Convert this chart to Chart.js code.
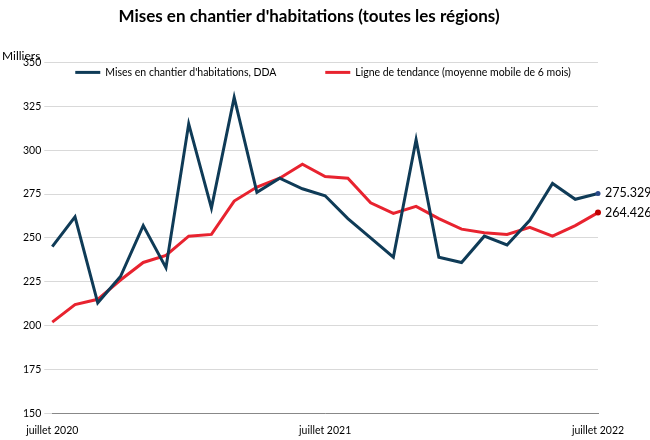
<!DOCTYPE html>
<html><head><meta charset="utf-8">
<script src="https://cdn.jsdelivr.net/npm/chart.js@4"></script>
<style>body{margin:0;background:#fff}#w{width:650px;height:440px}</style>
</head><body><div id="w"><canvas id="c"></canvas></div>
<script>
const labels=["juillet 2020","août 2020","sept. 2020","oct. 2020","nov. 2020","déc. 2020","janv. 2021","févr. 2021","mars 2021","avr. 2021","mai 2021","juin 2021","juillet 2021","août 2021","sept. 2021","oct. 2021","nov. 2021","déc. 2021","janv. 2022","févr. 2022","mars 2022","avr. 2022","mai 2022","juin 2022","juillet 2022"];
const mises=[245,262,213,228,257,233,315,267,330,276,284,278,274,261,250,239,306,239,236,251,246,260,281,272,275.329];
const tendance=[202,212,215,226,236,240,251,252,271,279,284,292,285,284,270,264,268,261,255,253,252,256,251,257,264.426];
const shownTicks=[0,12,24];
const last=labels.length-1;
const endLabels={
 id:'endLabels',
 afterDatasetsDraw(ch){
  const c=ch.ctx;c.save();c.font='12.5px Lato';c.fillStyle='#000';c.textBaseline='middle';
  ch.data.datasets.forEach((d,i)=>{const p=ch.getDatasetMeta(i).data[last];c.fillText(d.data[last].toFixed(3),p.x+7,p.y);});
  c.font='12px Lato';c.textBaseline='alphabetic';c.fillText('Milliers',2,60);
  // legend inside chart area
  const a=ch.chartArea, y=a.top+10;
  c.font='10.5px Lato';c.textBaseline='middle';c.lineWidth=3;
  const items=[[a.left+23,ch.data.datasets[0]],[a.left+273,ch.data.datasets[1]]];
  items.forEach(([x,d])=>{c.strokeStyle=d.borderColor;c.beginPath();c.moveTo(x,y);c.lineTo(x+25,y);c.stroke();c.fillStyle='#000';c.fillText(d.label,x+30,y);});
  c.restore();
 }
};
new Chart(document.getElementById('c'),{
 type:'line',
 data:{labels,datasets:[
  {label:"Mises en chantier d'habitations, DDA",data:mises,borderColor:'#0f3b57',backgroundColor:'#2a4a8a',borderWidth:3,tension:0,
   pointRadius:ctx=>ctx.dataIndex===last?2.5:0,pointBorderWidth:0},
  {label:'Ligne de tendance (moyenne mobile de 6 mois)',data:tendance,borderColor:'#e8232f',backgroundColor:'#c00000',borderWidth:3,tension:0,
   pointRadius:ctx=>ctx.dataIndex===last?3:0,pointBorderWidth:0}
 ]},
 plugins:[endLabels],
 options:{responsive:true,maintainAspectRatio:false,animation:false,
  layout:{padding:{left:20,right:52,top:0,bottom:0}},
  plugins:{
   title:{display:true,text:"Mises en chantier d'habitations (toutes les régions)",font:{family:'Lato',size:17,weight:'bold'},color:'#000',padding:{top:6,bottom:36}},
   legend:{display:false},
   tooltip:{enabled:false}
  },
  scales:{
   x:{grid:{display:false},border:{color:'#888'},
      ticks:{autoSkip:false,maxRotation:0,font:{family:'Lato',size:10.5},color:'#000',callback:(v,i)=>shownTicks.includes(i)?labels[i]:''}},
   y:{min:150,max:350,grid:{color:'#d9d9d9'},border:{display:false},
      ticks:{stepSize:25,font:{family:'Lato',size:10.5},color:'#000'}}
  }
 }
});
</script></body></html>
